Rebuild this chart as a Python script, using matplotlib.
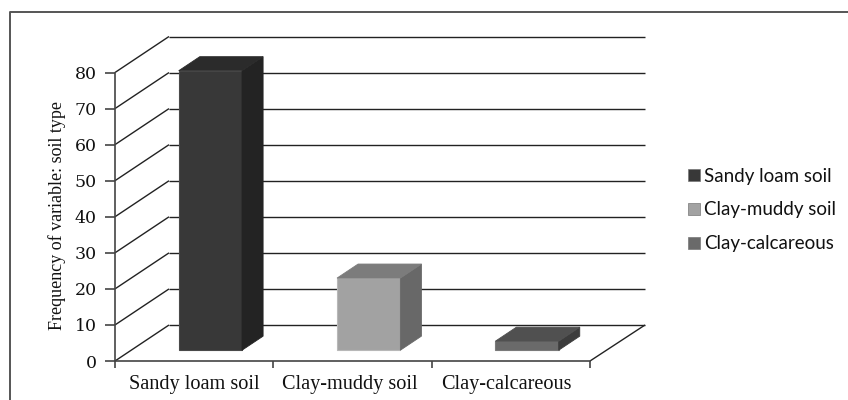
import matplotlib
matplotlib.use("Agg")
import matplotlib.pyplot as plt
from matplotlib.lines import Line2D
from matplotlib.patches import Polygon, Rectangle

categories = ["Sandy loam soil", "Clay-muddy soil", "Clay-calcareous"]
values = [77.5, 20, 2.5]
front_colors = ["#383838", "#a2a2a2", "#6a6a6a"]
side_colors = ["#232323", "#686868", "#3c3c3c"]
top_colors = ["#2b2b2b", "#7c7c7c", "#505050"]
edge_colors = ["#4a4a4a", "#b8b8b8", "#7a7a7a"]
y_ticks = [0, 10, 20, 30, 40, 50, 60, 70, 80]

W, H = 848, 400
fig = plt.figure(figsize=(W / 100, H / 100), dpi=100, facecolor="white")
# frame: only the top and left edges lie inside the picture
fig.add_artist(Line2D([10 / W, 10 / W, 1], [0, 1 - 12 / H, 1 - 12 / H], transform=fig.transFigure,
                      color="#555555", linewidth=1.4))

L, R, B, T = 115, 590, 361, 72.5
ax = fig.add_axes([L / W, 1 - B / H, (R - L) / W, (B - T) / H])
ax.set_xlim(0, 3)
ax.set_ylim(0, 80)
ax.patch.set_alpha(0)
for s in ("top", "right"):
    ax.spines[s].set_visible(False)
for s in ("left", "bottom"):
    ax.spines[s].set_color("#444444")
    ax.spines[s].set_linewidth(1.2)

DX, DY = 54 / ((R - L) / 3), 36 / ((B - T) / 80)   # depth offset in data units
X_END = 3 + DX * 55 / 54


def prj(x, y, d):
    return (x + DX * d, y + DY * d)


line_kw = dict(color="#222222", lw=1.0, clip_on=False, solid_capstyle="butt", zorder=1)
for t in y_ticks:
    x0, y0 = prj(0, t, 0)
    x1, y1 = prj(0, t, 1)
    ax.plot([x0, x1], [y0, y1], **line_kw)
    ax.plot([x1, X_END], [y1, y1], **line_kw)
ax.plot([3, X_END], [0, prj(0, 0, 1)[1]], **line_kw)

bar_w, d0, d1, base = 0.4, 0.3, 0.69, 0
for i, v in enumerate(values):
    xl, xr = i + 0.5 - bar_w / 2, i + 0.5 + bar_w / 2
    ax.add_patch(Polygon([prj(xl, base, d0), prj(xr, base, d0), prj(xr, v, d0), prj(xl, v, d0)],
                         facecolor=front_colors[i], edgecolor=edge_colors[i], lw=0.8, zorder=3, clip_on=False))
    ax.add_patch(Polygon([prj(xr, base, d0), prj(xr, base, d1), prj(xr, v, d1), prj(xr, v, d0)],
                         facecolor=side_colors[i], edgecolor=side_colors[i], lw=0.6, zorder=3, clip_on=False))
    ax.add_patch(Polygon([prj(xl, v, d0), prj(xr, v, d0), prj(xr, v, d1), prj(xl, v, d1)],
                         facecolor=top_colors[i], edgecolor=top_colors[i], lw=0.6, zorder=3, clip_on=False))

ax.set_yticks(y_ticks)
ax.set_xticks([0, 1, 2, 3])
ax.set_xticklabels([])
ax.set_xticks([0.5, 1.485, 2.47], minor=True)
ax.set_xticklabels(categories, minor=True, fontfamily="Liberation Serif", fontsize=14.6, color="#111111")
ax.tick_params(axis="x", which="minor", length=0, pad=10)
ax.tick_params(axis="x", which="major", length=5, width=1.2, color="#444444")
ax.tick_params(axis="y", length=7, width=1.2, color="#444444", pad=6)
for lab in ax.get_yticklabels():
    lab.set_fontfamily("DejaVu Serif")
    lab.set_fontsize(12.5)
    lab.set_color("#111111")
fig.text(57 / W, 1 - 216 / H, "Frequency of variable: soil type", rotation=90, ha="center", va="center",
         fontfamily="Liberation Serif", fontsize=13, color="#111111")

handles = [Rectangle((0, 0), 1, 1, facecolor=c, edgecolor="#777777", lw=0.5) for c in front_colors]
leg = fig.legend(handles, categories, loc="center left", bbox_to_anchor=(688 / W, 1 - 210 / H),
                 frameon=False, prop={"family": "Lato", "size": 13.5}, labelspacing=0.9,
                 handlelength=0.62, handleheight=0.62, handletextpad=0.25, borderpad=0, borderaxespad=0)
for t in leg.get_texts():
    t.set_color("#111111")

fig.savefig("out.png", dpi=100, facecolor="white")
